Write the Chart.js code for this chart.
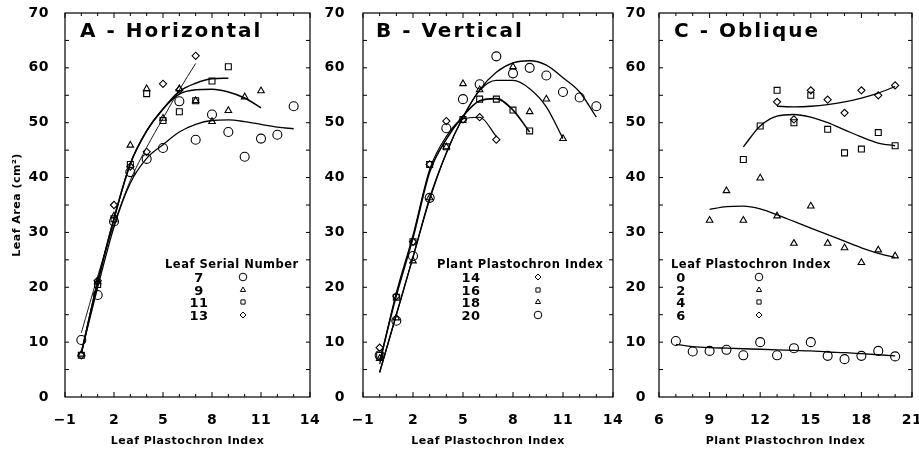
<!DOCTYPE html>
<html>
<head>
<meta charset="utf-8">
<script src="https://cdn.jsdelivr.net/npm/chart.js@4.4.1/dist/chart.umd.min.js"></script>
<style>
  body { margin: 0; background: #fff; }
  #wrap { position: relative; width: 919px; height: 450px; overflow: hidden; }
  .panel { position: absolute; top: 0; }
</style>
</head>
<body>
<div id="wrap">
  <canvas class="panel" id="chartA" width="330" height="450" style="left:0px"></canvas>
  <canvas class="panel" id="chartB" width="305" height="450" style="left:320px"></canvas>
  <canvas class="panel" id="chartC" width="299" height="450" style="left:620px"></canvas>
</div>
<script>
// ---- tick labels ----
const yTicks = [0, 10, 20, 30, 40, 50, 60, 70];
const xTicksAB = [-1, 2, 5, 8, 11, 14];
const xTicksC = [6, 9, 12, 15, 18, 21];

// ---- A - Horizontal (x = leaf plastochron index) ----
const lpiA = [0, 1, 2, 3, 4, 5, 6, 7, 8, 9, 10, 11, 12, 13];
const leafSerialNumbers = ['7', '9', '11', '13'];
const areaLeaf7 = [10.4, 18.6, 32.0, 41.0, 43.4, 45.4, 53.9, 46.9, 51.5, 48.3, 43.8, 47.1, 47.8, 53.0];
const areaLeaf9 = [7.8, 21.0, 33.0, 45.9, 56.2, 50.8, 56.2, 54.0, 50.2, 52.2, 54.7, 55.8];
const areaLeaf11 = [7.6, 20.5, 32.5, 42.4, 55.3, 50.4, 52.0, 54.0, 57.6, 60.2];
const areaLeaf13 = [7.6, 21.2, 35.0, 42.0, 44.7, 57.1, 56.0, 62.2];
const fitLeaf7 = [8.0, 20.0, 31.0, 39.0, 43.5, 46.0, 48.3, 49.7, 50.4, 50.5, 50.2, 49.7, 49.2, 48.9];
const fitLeaf9 = [8.0, 21.0, 32.5, 42.5, 48.5, 52.5, 55.2, 56.0, 56.1, 55.6, 54.5, 52.7];
const fitLeaf11 = [8.0, 21.0, 32.5, 42.5, 48.5, 52.5, 55.7, 57.2, 58.0, 58.1];
const fitLeaf13 = [11.7, 22.0, 31.5, 39.5, 45.5, 50.8, 56.0, 60.8];

// ---- B - Vertical (x = leaf plastochron index) ----
const lpiB = [0, 1, 2, 3, 4, 5, 6, 7, 8, 9, 10, 11, 12, 13];
const plantPlastochrons = ['14', '16', '18', '20'];
const areaPpi14 = [9.0, 18.4, 28.3, 42.4, 50.3, 50.6, 51.0, 46.9];
const areaPpi16 = [7.6, 18.2, 28.3, 42.4, 45.6, 50.6, 54.3, 54.3, 52.3, 48.5];
const areaPpi18 = [7.0, 14.4, 24.8, 36.3, 45.6, 57.1, 56.0, null, 60.2, 52.0, 54.3, 47.1];
const areaPpi20 = [7.6, 13.9, 25.7, 36.3, 49.0, 54.3, 57.0, 62.1, 59.0, 60.0, 58.6, 55.6, 54.6, 53.0];
const fitPpi14 = [6.0, 19.0, 29.5, 41.5, 47.5, 50.7, 51.0, 47.5];
const fitPpi16 = [6.5, 18.5, 29.0, 41.0, 47.0, 51.2, 54.0, 54.4, 52.3, 48.3];
const fitPpi18 = [4.5, 15.0, 25.5, 36.0, 44.5, 51.0, 55.9, 57.7, 57.7, 56.2, 52.9, 47.1];
const fitPpi20 = [4.5, 15.0, 25.5, 36.3, 44.5, 51.0, 56.0, 59.2, 60.9, 61.3, 60.5, 58.2, 55.6, 51.0];

// ---- C - Oblique (x = plant plastochron index) ----
const ppiC = [7, 8, 9, 10, 11, 12, 13, 14, 15, 16, 17, 18, 19, 20];
const leafPlastochrons = ['0', '2', '4', '6'];
const areaLpi0 = [10.2, 8.3, 8.4, 8.6, 7.6, 10.0, 7.6, 8.9, 10.0, 7.5, 6.9, 7.5, 8.4, 7.4];
const areaLpi2 = [null, null, 32.2, 37.6, 32.2, 39.9, 33.0, 28.0, 34.8, 28.0, 27.2, 24.5, 26.8, 25.7];
const areaLpi4 = [null, null, null, null, 43.3, 49.4, 55.9, 50.0, 55.0, 48.8, 44.5, 45.2, 48.2, 45.8];
const areaLpi6 = [null, null, null, null, null, null, 53.8, 50.6, 55.9, 54.2, 51.8, 55.9, 55.0, 56.8];
const fitLpi0 = [9.6, 9.2, 9.0, 8.9, 8.8, 8.7, 8.6, 8.5, 8.4, 8.2, 8.1, 7.9, 7.7, 7.5];
const fitLpi2 = [null, null, 34.2, 34.7, 34.8, 34.3, 33.2, 32.0, 30.8, 29.6, 28.4, 27.2, 26.2, 25.4];
const fitLpi4 = [null, null, null, null, 45.6, 49.4, 51.2, 51.5, 51.0, 50.0, 48.7, 47.4, 46.3, 45.8];
const fitLpi6 = [null, null, null, null, null, null, 53.0, 52.9, 53.0, 53.3, 53.8, 54.5, 55.4, 56.6];

const MARK_SIZE = { circle: 4.5, triangle: 3.8, rect: 4.2, rectRot: 3.6 };

Chart.defaults.font.family = '"DejaVu Sans", sans-serif';
Chart.defaults.font.weight = 'bold';
Chart.defaults.color = '#000';

function pairs(xs, ys) {
    const out = [];
    ys.forEach(function (y, i) {
        if (y !== null) out.push({ x: xs[i], y: y });
    });
    return out;
}

function drawMark(ctx, style, x, y, r) {
    ctx.beginPath();
    if (style === 'circle') {
        ctx.arc(x, y, r, 0, Math.PI * 2);
    } else if (style === 'triangle') {
        ctx.moveTo(x, y - r);
        ctx.lineTo(x + r * 0.87, y + r * 0.5);
        ctx.lineTo(x - r * 0.87, y + r * 0.5);
        ctx.closePath();
    } else if (style === 'rect') {
        ctx.rect(x - r * 0.7, y - r * 0.7, r * 1.4, r * 1.4);
    } else {
        ctx.moveTo(x, y - r);
        ctx.lineTo(x + r, y);
        ctx.lineTo(x, y + r);
        ctx.lineTo(x - r, y);
        ctx.closePath();
    }
    ctx.stroke();
}

// letter spacing like the old plotter lettering
const spacing = {
    id: 'spacing',
    beforeUpdate(chart) { chart.ctx.letterSpacing = '0.5px'; },
    beforeDraw(chart) { chart.ctx.letterSpacing = '0.5px'; }
};

// box round the plot with inward tick marks on all four sides
const frameTicks = {
    id: 'frameTicks',
    afterDatasetsDraw(chart, args, o) {
        const ctx = chart.ctx;
        const a = chart.chartArea;
        const x = chart.scales.x, y = chart.scales.y;
        ctx.save();
        ctx.strokeStyle = '#000';
        ctx.lineWidth = 1.2;
        ctx.strokeRect(a.left, a.top, a.right - a.left, a.bottom - a.top);
        ctx.lineWidth = 1;
        ctx.beginPath();
        for (let v = Math.ceil(x.min); v <= x.max; v++) {
            const px = x.getPixelForValue(v);
            const len = o.xMajor.indexOf(v) >= 0 ? 5 : 3;
            ctx.moveTo(px, a.bottom); ctx.lineTo(px, a.bottom - len);
            ctx.moveTo(px, a.top); ctx.lineTo(px, a.top + len);
        }
        for (let v = 5; v < y.max; v += 5) {
            const py = y.getPixelForValue(v);
            ctx.moveTo(a.left, py); ctx.lineTo(a.left + 4, py);
            ctx.moveTo(a.right, py); ctx.lineTo(a.right - 4, py);
        }
        ctx.stroke();
        ctx.restore();
    }
};

// panel title and the in-plot key
const panelText = {
    id: 'panelText',
    afterDraw(chart, args, o) {
        const ctx = chart.ctx;
        ctx.save();
        ctx.fillStyle = '#000';
        ctx.strokeStyle = '#000';
        ctx.lineWidth = 1;
        ctx.textBaseline = 'alphabetic';
        ctx.letterSpacing = '2px';
        ctx.font = 'bold 20px "DejaVu Sans"';
        ctx.fillText(o.title, o.titleX, 37);
        ctx.letterSpacing = '0.5px';
        ctx.font = 'bold 11.5px "DejaVu Sans"';
        ctx.fillText(o.heading, o.headingX, 268);
        ctx.font = 'bold 13px "DejaVu Sans"';
        ctx.textAlign = 'center';
        const rows = [277, 290, 302, 315];
        o.labels.forEach(function (lab, i) {
            ctx.fillText(lab, o.numX, rows[i] + 5);
            drawMark(ctx, o.marks[i], o.symX, rows[i], o.marks[i] === 'circle' ? 3.8 : 3);
        });
        ctx.restore();
    }
};

function buildPanel(id, p) {
    const datasets = [];
    p.fits.forEach(function (f, i) {
        datasets.push({
            data: pairs(p.xs, f),
            showLine: true,
            borderColor: '#000',
            borderWidth: p.lineWidths[i],
            pointRadius: 0,
            cubicInterpolationMode: 'monotone'
        });
    });
    p.series.forEach(function (s, i) {
        datasets.push({
            data: pairs(p.xs, s),
            showLine: false,
            pointStyle: p.marks[i],
            pointRadius: MARK_SIZE[p.marks[i]],
            borderWidth: 1.1,
            borderColor: '#000',
            backgroundColor: 'rgba(0,0,0,0)'
        });
    });

    new Chart(document.getElementById(id), {
        type: 'scatter',
        data: { datasets: datasets },
        plugins: [spacing, frameTicks, panelText],
        options: {
            responsive: false,
            animation: false,
            events: [],
            layout: { padding: { top: 13, right: p.rightPad, left: 0, bottom: 0 } },
            scales: {
                x: {
                    type: 'linear',
                    min: p.xTicks[0],
                    max: p.xTicks[p.xTicks.length - 1],
                    afterBuildTicks: function (s) { s.ticks = p.xTicks.map(function (v) { return { value: v }; }); },
                    afterFit: function (s) { s.height = 53; s.paddingLeft = 0; s.paddingRight = 0; },
                    grid: { display: false },
                    border: { display: false },
                    ticks: {
                        autoSkip: false,
                        maxRotation: 0,
                        padding: 7,
                        font: { size: 14 },
                        callback: function (v) { return v < 0 ? '\u2212' + Math.abs(v) : String(v); }
                    },
                    title: { display: true, text: p.xTitle, font: { size: 11 }, padding: { top: 0, bottom: 2 } }
                },
                y: {
                    min: 0,
                    max: 70,
                    afterBuildTicks: function (s) { s.ticks = yTicks.map(function (v) { return { value: v }; }); },
                    afterFit: function (s) { s.width = p.yWidth; s.paddingTop = 0; s.paddingBottom = 0; },
                    grid: { display: false },
                    border: { display: false },
                    ticks: { padding: p.yPad, font: { size: 14 } },
                    title: { display: !!p.yTitle, text: p.yTitle || '', font: { size: 11 }, padding: { top: 11, bottom: 0 } }
                }
            },
            plugins: {
                legend: { display: false },
                tooltip: { enabled: false },
                frameTicks: { xMajor: p.xTicks },
                panelText: p.text
            }
        }
    });
}

buildPanel('chartA', {
    xs: lpiA,
    series: [areaLeaf7, areaLeaf9, areaLeaf11, areaLeaf13],
    fits: [fitLeaf7, fitLeaf9, fitLeaf11, fitLeaf13],
    marks: ['circle', 'triangle', 'rect', 'rectRot'],
    lineWidths: [1.3, 1.5, 1.5, 0.9],
    xTicks: xTicksAB,
    xTitle: 'Leaf Plastochron Index',
    yTitle: 'Leaf Area (cm\u00b2)',
    yWidth: 65, yPad: 8, rightPad: 20,
    text: { title: 'A - Horizontal', titleX: 80, heading: 'Leaf Serial Number', headingX: 165,
            labels: leafSerialNumbers, marks: ['circle', 'triangle', 'rect', 'rectRot'], numX: 199, symX: 243 }
});

buildPanel('chartB', {
    xs: lpiB,
    series: [areaPpi14, areaPpi16, areaPpi18, areaPpi20],
    fits: [fitPpi14, fitPpi16, fitPpi18, fitPpi20],
    marks: ['rectRot', 'rect', 'triangle', 'circle'],
    lineWidths: [1.2, 1.6, 1.3, 1.3],
    xTicks: xTicksAB,
    xTitle: 'Leaf Plastochron Index',
    yWidth: 43, yPad: 10, rightPad: 12,
    text: { title: 'B - Vertical', titleX: 56, heading: 'Plant Plastochron Index', headingX: 117,
            labels: plantPlastochrons, marks: ['rectRot', 'rect', 'triangle', 'circle'], numX: 151, symX: 218 }
});

buildPanel('chartC', {
    xs: ppiC,
    series: [areaLpi0, areaLpi2, areaLpi4, areaLpi6],
    fits: [fitLpi0, fitLpi2, fitLpi4, fitLpi6],
    marks: ['circle', 'triangle', 'rect', 'rectRot'],
    lineWidths: [1.3, 1.3, 1.3, 1.3],
    xTicks: xTicksC,
    xTitle: 'Plant Plastochron Index',
    yWidth: 39, yPad: 5, rightPad: 7,
    text: { title: 'C - Oblique', titleX: 54, heading: 'Leaf Plastochron Index', headingX: 51,
            labels: leafPlastochrons, marks: ['circle', 'triangle', 'rect', 'rectRot'], numX: 61, symX: 139 }
});
</script>
</body>
</html>
